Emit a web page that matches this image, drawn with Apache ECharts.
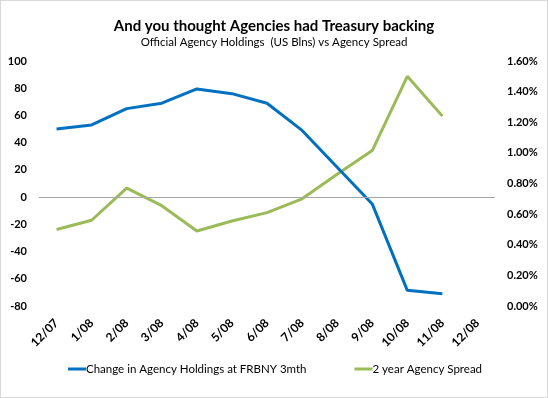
<!DOCTYPE html>
<html>
<head>
<meta charset="utf-8">
<script src="https://cdn.jsdelivr.net/npm/echarts@6/dist/echarts.min.js"></script>
<style>
  html, body { margin: 0; padding: 0; background: #fff; }
  #chart { width: 546px; height: 396px; border: 1px solid #d9d9d9; }
</style>
</head>
<body>
<div id="chart"></div>
<script>
var months = ['12/07', '1/08', '2/08', '3/08', '4/08', '5/08', '6/08', '7/08', '8/08', '9/08', '10/08', '11/08', '12/08'];
// change in agency holdings, US bln
var holdings = [50, 53, 65, 69, 79.5, 76, 69, 49, 22, -5, -68.5, -71, null];
// 2 year agency spread, percent
var spread = [0.50, 0.56, 0.77, 0.655, 0.49, 0.555, 0.61, 0.70, 0.86, 1.015, 1.50, 1.24, null];

var font = 'Lato';
var myChart = echarts.init(document.getElementById('chart'));
var option = {
    animation: false,
    textStyle: { fontFamily: font },
    title: {
        text: 'And you thought Agencies had Treasury backing',
        subtext: 'Official Agency Holdings  (US Blns) vs Agency Spread',
        left: 'center',
        top: 13,
        itemGap: 2,
        textStyle: { fontFamily: font, fontSize: 15, fontWeight: 'bold', color: '#000' },
        subtextStyle: { fontFamily: font, fontSize: 11.5, color: '#000' }
    },
    grid: { left: 38, right: 52, top: 60, bottom: 91 },
    legend: {
        bottom: 17,
        left: 62,
        itemGap: 48,
        itemWidth: 18,
        itemHeight: 3,
        icon: 'rect',
        textStyle: { fontFamily: font, fontSize: 11.5, color: '#000', padding: [0, 0, 0, -5] },
        data: ['Change in Agency Holdings at FRBNY 3mth', '2 year Agency Spread']
    },
    xAxis: {
        type: 'category',
        data: months,
        boundaryGap: true,
        axisLine: { show: false },
        axisTick: { show: false },
        axisLabel: { rotate: 45, margin: 15, fontSize: 12, fontWeight: 'bold', color: '#000', interval: 0 }
    },
    yAxis: [
        {
            type: 'value',
            min: -80, max: 100, interval: 20,
            axisLine: { show: false },
            axisTick: { show: false },
            splitLine: { show: false },
            axisLabel: { fontSize: 11, fontWeight: 'bold', color: '#000', margin: 12 }
        },
        {
            type: 'value',
            min: 0, max: 1.6, interval: 0.2,
            axisLine: { show: false },
            axisTick: { show: false },
            splitLine: { show: false },
            axisLabel: {
                fontSize: 11, fontWeight: 'bold', color: '#000', margin: 12,
                formatter: function (v) { return v.toFixed(2) + '%'; }
            }
        }
    ],
    series: [
        {
            name: 'Change in Agency Holdings at FRBNY 3mth',
            type: 'line',
            yAxisIndex: 0,
            data: holdings,
            symbol: 'none',
            itemStyle: { color: '#0070c0' },
            lineStyle: { color: '#0070c0', width: 3 },
            markLine: {
                silent: true,
                symbol: 'none',
                label: { show: false },
                lineStyle: { color: '#a6a6a6', width: 1, type: 'solid' },
                data: [{ yAxis: 0 }]
            },
            z: 3
        },
        {
            name: '2 year Agency Spread',
            type: 'line',
            yAxisIndex: 1,
            data: spread,
            symbol: 'none',
            itemStyle: { color: '#9bbb59' },
            lineStyle: { color: '#9bbb59', width: 3 },
            z: 2
        }
    ]
};
myChart.setOption(option);
</script>
</body>
</html>
